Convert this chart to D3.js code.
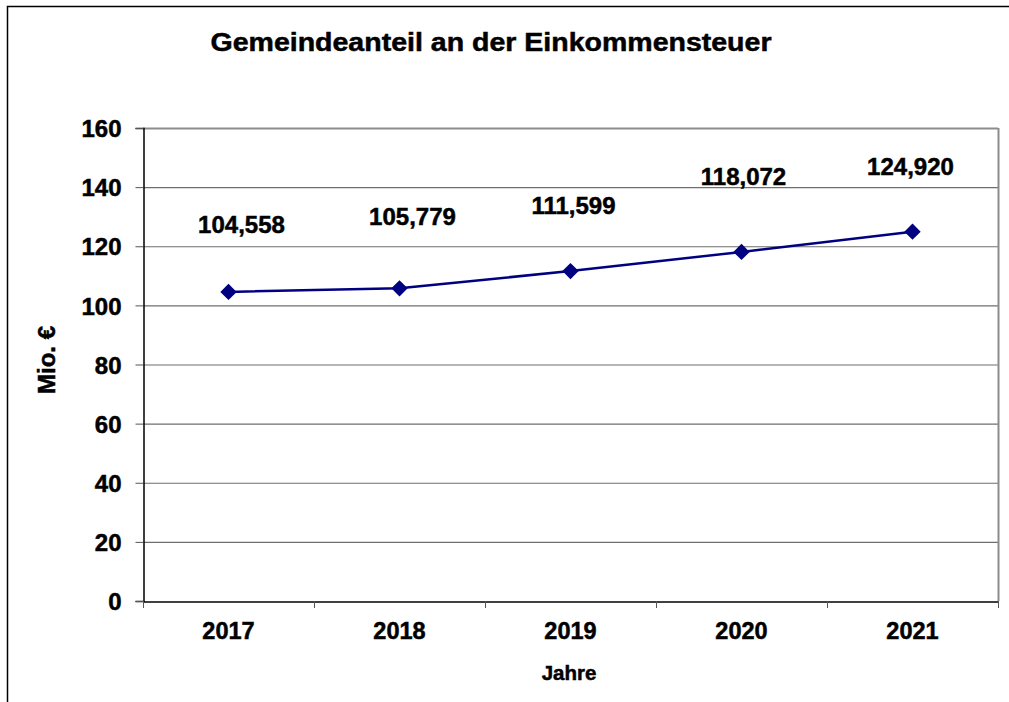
<!DOCTYPE html>
<html><head><meta charset="utf-8">
<script src="https://cdn.jsdelivr.net/npm/d3@7"></script>
<style>
html,body{margin:0;padding:0;background:#fff;}
text{font-family:"Liberation Sans",Arial,sans-serif !important;font-weight:bold;fill:#000;stroke:#000;stroke-width:0.5px;}
</style></head>
<body>
<svg id="chart" width="1009" height="702"></svg>
<script>
// ---- data ----
const years = ["2017", "2018", "2019", "2020", "2021"];
const values = [104.558, 105.779, 111.599, 118.072, 124.920];
const valueLabels = ["104,558", "105,779", "111,599", "118,072", "124,920"];
const yTicks = [0, 20, 40, 60, 80, 100, 120, 140, 160];
const titleText = "Gemeindeanteil an der Einkommensteuer";
const xTitle = "Jahre";
const yTitle = "Mio. €";

// ---- layout / style ----
const labelNudge = [[13, -68], [13, -72], [3, -66], [2, -76], [-2, -65]];
const m = {left: 143, right: 998, top: 128, bottom: 601};
const svg = d3.select("#chart");

// outer frame
svg.append("path").attr("d", "M7.5,702 L7.5,6.5 L1009,6.5")
  .attr("fill", "none").attr("stroke", "#000").attr("stroke-width", 1.5);

const x = d3.scaleBand().domain(years).range([m.left, m.right]).padding(0);
const y = d3.scaleLinear().domain([0, 160]).range([m.bottom, m.top]);

// grid lines
svg.append("g").selectAll("line").data(yTicks.filter(d => d > 0)).join("line")
  .attr("x1", m.left).attr("x2", m.right)
  .attr("y1", d => y(d) + 0.5).attr("y2", d => y(d) + 0.5)
  .attr("stroke", d => d === 160 ? "#8c8c8c" : "#6e6e6e")
  .attr("stroke-width", d => d === 160 ? 2 : 1.2);
// right border
svg.append("line").attr("x1", m.right + 0.5).attr("x2", m.right + 0.5)
  .attr("y1", m.top).attr("y2", m.bottom).attr("stroke", "#8c8c8c").attr("stroke-width", 2);

// y axis
const yAxis = d3.axisLeft(y).tickValues(yTicks).tickSize(8).tickPadding(14).tickFormat(d3.format("d"));
const gy = svg.append("g").attr("transform", `translate(${m.left + 0.5},0)`).call(yAxis);
gy.select(".domain").attr("stroke", "#000").attr("stroke-width", 1.5);
gy.selectAll(".tick line").attr("stroke", "#555");
gy.selectAll(".tick text").style("font-size", "24px").attr("dy", "0.36em");

// x axis
const xAxis = d3.axisBottom(x).tickSize(0).tickPadding(21);
const gx = svg.append("g").attr("transform", `translate(0,${m.bottom + 0.5})`).call(xAxis);
gx.select(".domain").attr("stroke", "#000").attr("stroke-width", 1.5);
gx.selectAll(".tick text").style("font-size", "23.5px");
// category boundary ticks
const bounds = years.map(d => x(d)).concat([m.right]);
svg.append("g").selectAll("line").data(bounds).join("line")
  .attr("x1", d => d + 0.5).attr("x2", d => d + 0.5)
  .attr("y1", m.bottom).attr("y2", m.bottom + 7)
  .attr("stroke", "#555");

// line
const cx = d => x(d) + x.bandwidth() / 2;
const pts = years.map((d, i) => [cx(d), y(values[i])]);
svg.append("path").datum(pts)
  .attr("d", d3.line())
  .attr("fill", "none").attr("stroke", "#000080").attr("stroke-width", 2.5);
svg.append("g").selectAll("path").data(pts).join("path")
  .attr("transform", d => `translate(${d[0]},${d[1]})`)
  .attr("d", d3.symbol(d3.symbolDiamond2, 170)())
  .attr("fill", "#000080");

// data labels
svg.append("g").selectAll("text").data(pts).join("text")
  .attr("x", (d, i) => d[0] + labelNudge[i][0])
  .attr("y", (d, i) => d[1] + labelNudge[i][1])
  .attr("dy", "0.36em").attr("text-anchor", "middle")
  .style("font-size", "24px")
  .text((d, i) => valueLabels[i]);

// titles
svg.append("text").attr("x", 491).attr("y", 51).attr("text-anchor", "middle")
  .attr("textLength", 561).attr("lengthAdjust", "spacingAndGlyphs")
  .style("font-size", "26px").text(titleText);
svg.append("text").attr("x", 569).attr("y", 680).attr("text-anchor", "middle")
  .style("font-size", "20.5px").text(xTitle);
svg.append("text").attr("transform", "translate(55,360) rotate(-90)").attr("text-anchor", "middle")
  .style("font-size", "24px").text(yTitle);
</script>
</body></html>
